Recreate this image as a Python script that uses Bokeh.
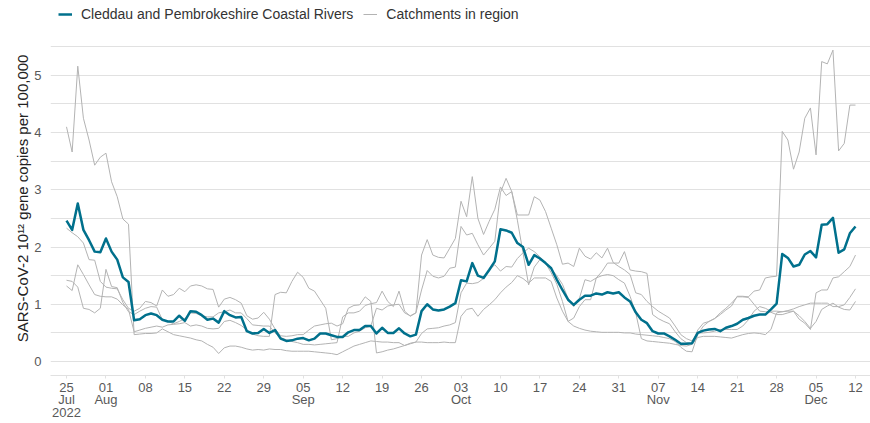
import numpy as np
import pandas as pd
from bokeh.plotting import figure
from bokeh.models import Range1d, FixedTicker, Legend, LegendItem, ColumnDataSource
from bokeh.embed import file_html
from bokeh.resources import INLINE

# ---------------- data ----------------
start_date = "2022-07-25"
end_date = "2022-12-12"
dates = pd.date_range(start_date, end_date, freq="D")          # 141 daily samples
tick_dates = pd.date_range(start_date, end_date, freq="7D")    # weekly ticks (Mondays)

main_name = "Cleddau and Pembrokeshire Coastal Rivers"
other_name = "Catchments in region"
y_label = "SARS-CoV-2 10\u00b9\u00b2 gene copies per 100,000"
y_ticks = [0, 1, 2, 3, 4, 5]

cleddau = [
    2.46, 2.30, 2.76, 2.30, 2.12, 1.92, 1.91,
    2.15, 1.92, 1.78, 1.47, 1.39, 0.72, 0.74,
    0.81, 0.84, 0.81, 0.73, 0.70, 0.70, 0.80,
    0.71, 0.88, 0.87, 0.81, 0.73, 0.75, 0.68,
    0.88, 0.81, 0.77, 0.78, 0.53, 0.49, 0.50,
    0.57, 0.50, 0.55, 0.40, 0.36, 0.37, 0.40,
    0.41, 0.37, 0.40, 0.49, 0.49, 0.46, 0.43,
    0.43, 0.51, 0.55, 0.55, 0.62, 0.62, 0.49,
    0.59, 0.50, 0.50, 0.58, 0.49, 0.44, 0.47,
    0.88, 1.00, 0.91, 0.89, 0.91, 0.96, 1.02,
    1.42, 1.40, 1.72, 1.50, 1.46, 1.60, 1.75,
    2.31, 2.29, 2.25, 2.07, 2.00, 1.69, 1.86,
    1.80, 1.72, 1.63, 1.43, 1.25, 1.08, 0.99,
    1.08, 1.15, 1.15, 1.19, 1.17, 1.21, 1.19,
    1.21, 1.12, 1.05, 0.86, 0.73, 0.67, 0.53,
    0.49, 0.49, 0.44, 0.38, 0.31, 0.31, 0.32,
    0.50, 0.54, 0.56, 0.57, 0.53, 0.59, 0.62,
    0.66, 0.73, 0.76, 0.80, 0.82, 0.82, 0.91,
    1.01, 1.88, 1.81, 1.66, 1.69, 1.87, 1.93,
    1.82, 2.39, 2.40, 2.51, 1.90, 1.96, 2.24,
    2.36,
]

catchment_1 = [
    4.10, 3.66, 5.16, 4.25, 3.87, 3.43, 3.57,
    3.64, 3.14, 2.88, 2.49, 2.40, 0.47, 0.48,
    0.49, 0.49, 0.50, 0.57, 0.52, 0.47, 0.45,
    0.43, 0.41, 0.38, 0.36, 0.30, 0.25, 0.14,
    0.24, 0.27, 0.27, 0.25, 0.22, 0.20, 0.21,
    0.20, 0.22, 0.21, 0.21, 0.19, 0.18, 0.18,
    0.18, 0.18, 0.17, 0.16, 0.15, 0.14, 0.12,
    0.17, 0.22, 0.27, 0.30, 0.33, 0.36, 0.35,
    0.34, 0.34, 0.33, 0.33, 0.28, 0.31, 0.34,
    0.34, 0.33, 0.33, 0.33, 0.34, 0.33, 0.33,
    0.79, 0.91, 0.93, 0.79, 0.91, 0.99, 1.08,
    1.20, 1.30, 1.38, 1.50, 1.45, 1.37, 1.46,
    1.46, 1.46, 1.40, 1.11, 0.88, 0.70, 0.62,
    0.58, 0.55, 0.53, 0.52, 0.51, 0.51, 0.51,
    0.51, 0.50, 0.50, 0.48, 0.47, 0.46, 0.45,
    0.44, 0.42, 0.40, 0.35, 0.25, 0.18, 0.17,
    0.47, 0.62, 0.70, 0.75, 0.82, 0.90, 0.97,
    1.14, 1.14, 1.13, 1.23, 1.25, 1.46, 1.48,
    1.49, 4.02, 3.87, 3.36, 3.66, 4.25, 4.43,
    3.61, 5.24, 5.20, 5.44, 3.68, 3.81, 4.48,
    4.48,
]

catchment_2 = [
    2.33, 2.25, 2.18, 2.07, 1.78, 1.77, 1.40,
    1.30, 1.28, 1.27, 1.08, 0.93, 0.88, 0.93,
    1.05, 1.03, 0.97, 1.25, 1.14, 1.17, 1.28,
    1.22, 1.32, 1.34, 1.32, 1.27, 1.26, 0.95,
    1.09, 1.12, 1.08, 1.02, 0.80, 0.74, 0.76,
    0.86, 0.74, 0.57, 0.45, 0.44, 0.45, 0.47,
    0.47, 0.55, 0.62, 0.64, 0.66, 0.67, 0.62,
    0.66, 0.93, 0.98, 0.99, 1.13, 1.05, 0.15,
    0.17, 0.20, 0.22, 0.25, 0.28, 0.32, 0.34,
    0.49, 0.57, 0.58, 0.59, 0.62, 0.64, 0.68,
    1.20, 1.37, 1.36, 1.38, 1.45, 1.60, 1.69,
    1.58, 1.66, 1.65, 1.80, 1.90, 1.98, 1.92,
    1.83, 1.72, 1.55, 1.35, 1.05, 0.70, 0.76,
    0.96, 1.08, 1.08, 1.46, 1.57, 1.72, 1.72,
    1.72, 1.92, 1.60, 1.58, 1.57, 1.54, 0.82,
    0.75, 0.70, 0.66, 0.52, 0.40, 0.33, 0.31,
    0.55, 0.67, 0.70, 0.75, 0.85, 0.93, 1.02,
    1.13, 1.13, 1.12, 1.00, 0.88, 0.87, 0.86,
    0.82, 0.82, 0.85, 0.88, 0.80, 0.70, 0.58,
    0.70, 0.91, 0.97, 1.02, 0.95, 0.91, 0.90,
    1.05,
]

catchment_3 = [
    1.42, 1.40, 1.30, 0.93, 0.91, 0.85, 0.93,
    1.61, 1.31, 1.29, 1.03, 0.87, 0.82, 0.88,
    0.93, 0.96, 0.95, 0.73, 0.70, 0.66, 0.70,
    0.75, 0.85, 0.84, 0.80, 0.78, 0.78, 0.85,
    0.87, 0.90, 0.85, 0.85, 0.75, 0.64, 0.63,
    0.62, 0.62, 0.50, 0.42, 0.38, 0.35, 0.33,
    0.30, 0.30, 0.29, 0.30, 0.31, 0.32, 0.33,
    0.78, 0.85, 0.85, 0.88, 0.98, 1.01, 1.03,
    1.23, 1.05, 0.96, 1.23, 0.88, 0.79, 0.85,
    1.86, 2.13, 1.86, 1.82, 1.81, 1.98, 2.15,
    2.80, 2.53, 3.23, 2.50, 2.22, 2.45, 2.66,
    3.05, 2.90, 2.97, 2.56, 2.56, 2.56, 2.88,
    2.82, 2.62, 2.33, 2.04, 1.70, 1.72, 1.66,
    1.98, 1.84, 1.79, 1.90, 1.81, 1.98, 1.73,
    1.66, 1.60, 1.52, 1.20, 1.17, 1.05, 0.96,
    0.88, 0.82, 0.76, 0.62, 0.47, 0.40, 0.36,
    0.50, 0.50, 0.51, 0.53, 0.56, 0.56, 0.56,
    0.56, 0.62, 0.73, 0.88, 0.96, 0.93, 0.88,
    0.88, 0.87, 0.88, 0.88, 0.74, 0.67, 0.56,
    1.20, 1.25, 1.25, 1.46, 1.48, 1.57, 1.66,
    1.86,
]

catchment_4 = [
    1.32, 1.24, 1.69, 1.52, 1.34, 1.17, 1.14,
    1.13, 1.13, 1.09, 0.99, 0.91, 0.52, 0.55,
    0.58, 0.60, 0.62, 0.60, 0.64, 0.65, 0.66,
    0.68, 0.62, 0.64, 0.62, 0.58, 0.57, 0.58,
    0.70, 0.72, 0.68, 0.63, 0.55, 0.48, 0.45,
    0.44, 0.44, 1.17, 1.21, 1.20, 1.40, 1.56,
    1.47, 1.28, 1.23, 1.08, 0.93, 0.38, 0.40,
    0.44, 0.44, 0.50, 0.53, 0.59, 0.62, 0.93,
    0.90, 0.97, 0.99, 1.00, 0.85, 0.80, 0.85,
    1.25, 1.59, 1.49, 1.46, 1.49, 1.63, 1.65,
    2.36, 2.21, 2.24, 2.04, 1.86, 1.98, 2.10,
    2.95, 3.20, 2.97, 2.47, 1.90, 1.34, 1.65,
    1.78, 1.72, 1.62, 1.50, 1.35, 1.10, 0.96,
    1.10, 1.43, 1.40, 1.46, 1.50, 1.52, 1.50,
    1.43, 1.37, 1.14, 0.85, 0.40, 0.36, 0.35,
    0.34, 0.33, 0.32, 0.30, 0.28, 0.27, 0.30,
    0.42, 0.44, 0.44, 0.44, 0.43, 0.42, 0.41,
    0.44, 0.47, 0.49, 0.50, 0.49, 0.47, 0.56,
    0.85, 0.87, 0.89, 0.92, 0.96, 0.99, 1.02,
    1.02, 1.02, 1.02, 0.96, 0.96, 0.99, 1.12,
    1.27,
]

# ---------------- styling ----------------
FONT = "Liberation Sans"
MAIN_COLOR = "#00708C"
GREY = "#b3b3b3"
GRID = "#e1e1e1"
TICK_COLOR = "#595959"

source = ColumnDataSource(dict(date=dates, main=cleddau,
                               c1=catchment_1, c2=catchment_2,
                               c3=catchment_3, c4=catchment_4))

p = figure(
    width=870, height=423,
    x_axis_type="datetime",
    output_backend="svg",
    toolbar_location=None,
    x_range=Range1d(dates[0] - pd.Timedelta(days=2.84), dates[-1] + pd.Timedelta(days=2.66)),
    y_range=Range1d(-0.244, 6.307),
    min_border_left=50, min_border_right=0, min_border_top=0, min_border_bottom=47,
)
p.outline_line_color = None
p.background_fill_color = "white"
p.border_fill_color = "white"

grey_renderers = []
for col in ["c1", "c2", "c3", "c4"]:
    r = p.line(x="date", y=col, source=source, line_color=GREY, line_width=1)
    grey_renderers.append(r)
main_r = p.line(x="date", y="main", source=source, line_color=MAIN_COLOR, line_width=2.5,
                line_join="round")

# x axis: weekly ticks; day, month name at the first tick of a month, year at the first tick
tick_ms = [float((d - pd.Timestamp("1970-01-01")) / pd.Timedelta(milliseconds=1)) for d in tick_dates]
overrides = {}
prev_month = None
for i, (d, ms) in enumerate(zip(tick_dates, tick_ms)):
    s = d.strftime("%d")
    if d.month != prev_month:
        s += "\n" + d.strftime("%b")
    if i == 0:
        s += "\n" + d.strftime("%Y")
    prev_month = d.month
    overrides[ms] = s
p.xaxis.ticker = FixedTicker(ticks=tick_ms)
p.xaxis.major_label_overrides = overrides
p.xaxis.axis_line_color = GRID
p.xaxis.major_tick_line_color = GRID
p.xaxis.major_tick_out = 3
p.xaxis.major_tick_in = 0
p.xaxis.minor_tick_line_color = None
p.xaxis.major_label_standoff = 1
p.xaxis.major_label_text_font = FONT
p.xaxis.major_label_text_font_size = "13px"
p.xaxis.major_label_text_line_height = 0.86
p.xaxis.major_label_text_color = TICK_COLOR
p.xgrid.visible = False

# y axis
p.yaxis.ticker = FixedTicker(ticks=y_ticks)
p.yaxis.axis_line_color = None
p.yaxis.major_tick_line_color = None
p.yaxis.minor_tick_line_color = None
p.yaxis.major_label_standoff = 3
p.yaxis.major_label_text_font = FONT
p.yaxis.major_label_text_font_size = "13px"
p.yaxis.major_label_text_color = TICK_COLOR
p.yaxis.axis_label = y_label + "\u00a0" * 5
p.yaxis.axis_label_standoff = 0
p.yaxis.axis_label_text_font = FONT
p.yaxis.axis_label_text_font_size = "15px"
p.yaxis.axis_label_text_font_style = "normal"
p.yaxis.axis_label_text_color = "#222222"

p.ygrid.ticker = FixedTicker(ticks=list(np.arange(0, 5.51, 0.5)))
p.ygrid.grid_line_color = GRID
p.ygrid.grid_line_width = 1

legend = Legend(
    items=[LegendItem(label=main_name, renderers=[main_r]),
           LegendItem(label=other_name, renderers=[grey_renderers[0]])],
    location=(8, 353), orientation="horizontal",
    margin=0, padding=0, spacing=10,
    glyph_width=14, glyph_height=14, label_height=14, label_standoff=9,
    label_text_font=FONT, label_text_font_size="14px", label_text_color="#333333",
    border_line_color=None, background_fill_alpha=0,
)
p.add_layout(legend)

open("out.html", "w").write(file_html(p, INLINE))
